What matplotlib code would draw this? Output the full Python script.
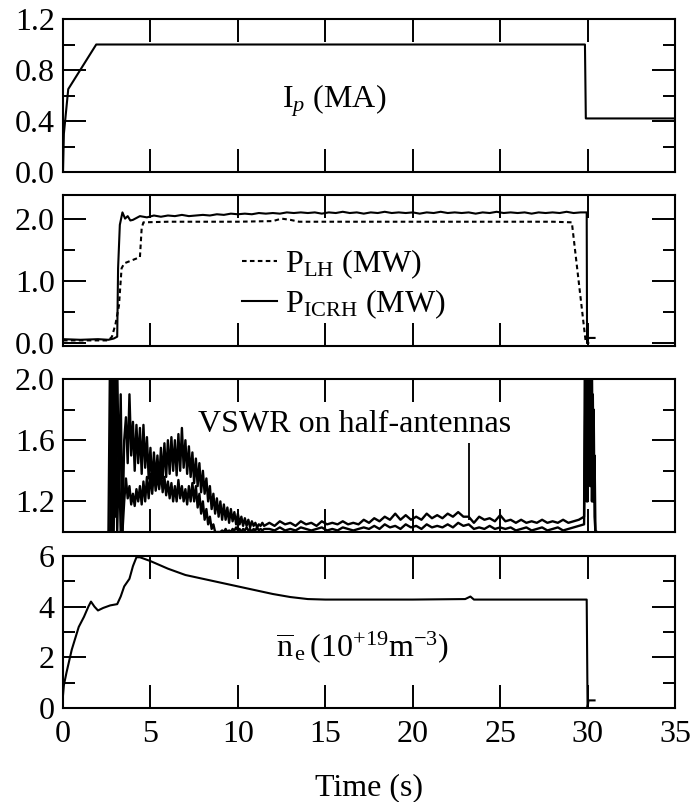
import numpy as np
import matplotlib
matplotlib.use("Agg")
import matplotlib.pyplot as plt
from matplotlib.ticker import FixedLocator
from matplotlib.lines import Line2D

plt.rcParams['font.family'] = ['Liberation Serif', 'DejaVu Serif']
plt.rcParams['mathtext.fontset'] = 'custom'
plt.rcParams['mathtext.rm'] = 'Liberation Serif'
plt.rcParams['mathtext.it'] = 'Liberation Serif:italic'
plt.rcParams['mathtext.bf'] = 'Liberation Serif:bold'

FS = 23

# ---------------- plasma current ----------------
t_ip = [0.0, 0.05, 0.3, 1.9, 29.85, 29.9, 35.0]
ip = [0.0, 0.3, 0.65, 1.0, 1.0, 0.42, 0.42]

# ---------------- heating powers ----------------
t_icrh_rise = [0.0, 1.0, 2.0, 2.6, 2.9, 3.1, 3.15, 3.25, 3.4, 3.55, 3.7, 3.85]
icrh_rise = [0.06, 0.05, 0.06, 0.05, 0.07, 0.1, 1.2, 1.9, 2.1, 2.0, 2.04, 1.97]
t_icrh_flat = np.arange(4.0, 29.7, 0.4)
icrh_flat = [1.98, 2.04, 2.02, 2.05, 2.03, 2.05, 2.04, 2.06, 2.04, 2.05,
             2.06, 2.05, 2.07, 2.06, 2.08, 2.07, 2.08, 2.07, 2.09, 2.08,
             2.09, 2.08, 2.10, 2.09, 2.10, 2.09, 2.10, 2.08, 2.10, 2.09,
             2.11, 2.09, 2.10, 2.08, 2.10, 2.09, 2.11, 2.09, 2.10, 2.09,
             2.10, 2.08, 2.10, 2.09, 2.11, 2.09, 2.10, 2.09, 2.10, 2.08,
             2.10, 2.09, 2.11, 2.09, 2.10, 2.09, 2.10, 2.08, 2.10, 2.09,
             2.10, 2.09, 2.11, 2.09, 2.10]
t_icrh_end = [29.95, 29.97, 30.05, 30.4]
icrh_end = [2.1, 0.0, 0.08, 0.08]

t_lh = [0.0, 2.6, 2.8, 3.0, 3.2, 3.35, 3.5, 4.4, 4.5, 4.6, 6.0, 8.0, 10.0,
        12.0, 12.5, 13.0, 13.5, 15.0, 20.0, 25.0, 28.0, 29.1, 29.9, 30.1]
p_lh = [0.04, 0.04, 0.1, 0.3, 0.6, 1.2, 1.28, 1.38, 1.85, 1.94, 1.95, 1.95,
        1.95, 1.96, 2.0, 1.98, 1.95, 1.95, 1.95, 1.95, 1.95, 1.94, 0.0, 0.0]

# ---------------- VSWR on the two half-antennas ----------------
t_v1 = np.arange(2.6, 11.55, 0.1)
vswr_a1 = [1.0, 2.3, 1.0, 2.2, 1.1, 2.1, 1.3, 1.9, 1.0, 1.6,
           1.75, 1.45, 1.9, 1.5, 1.72, 1.4, 1.7, 1.45, 1.68, 1.38,
           1.7, 1.42, 1.62, 1.35, 1.55, 1.3, 1.52, 1.33, 1.5, 1.32,
           1.55, 1.35, 1.58, 1.36, 1.6, 1.38, 1.62, 1.4, 1.6, 1.37,
           1.64, 1.4, 1.68, 1.42, 1.6, 1.38, 1.56, 1.36, 1.52, 1.32,
           1.48, 1.3, 1.45, 1.26, 1.4, 1.25, 1.35, 1.2, 1.3, 1.15,
           1.25, 1.12, 1.22, 1.1, 1.2, 1.08, 1.18, 1.08, 1.16, 1.06,
           1.15, 1.07, 1.13, 1.05, 1.12, 1.05, 1.1, 1.04, 1.09, 1.04,
           1.08, 1.03, 1.07, 1.04, 1.06, 1.03, 1.05, 1.04, 1.06, 1.04]
vswr_b1 = [1.0, 1.0, 2.2, 1.0, 2.1, 1.0, 1.5, 1.0, 1.0, 1.2,
           1.35, 1.22, 1.3, 1.18, 1.25, 1.17, 1.28, 1.2, 1.3, 1.18,
           1.33, 1.2, 1.36, 1.22, 1.38, 1.25, 1.4, 1.27, 1.38, 1.28,
           1.4, 1.26, 1.36, 1.24, 1.33, 1.22, 1.32, 1.2, 1.3, 1.2,
           1.34, 1.22, 1.3, 1.2, 1.28, 1.18, 1.3, 1.2, 1.32, 1.2,
           1.3, 1.16, 1.25, 1.12, 1.2, 1.08, 1.15, 1.05, 1.1, 1.02,
           1.05, 1.0, 1.0, 1.0, 1.0, 1.01, 1.0, 1.02, 1.0, 1.01,
           1.0, 1.02, 1.01, 1.03, 1.01, 1.02, 1.0, 1.02, 1.01, 1.03,
           1.01, 1.02, 1.0, 1.02, 1.01, 1.03, 1.01, 1.02, 1.01, 1.02]

t_v2 = np.arange(11.8, 29.55, 0.3)
vswr_a2 = [1.06, 1.04, 1.07, 1.05, 1.06, 1.04, 1.07, 1.05, 1.06, 1.04,
           1.07, 1.05, 1.06, 1.05, 1.07, 1.05, 1.06, 1.05, 1.08, 1.06,
           1.09, 1.07, 1.10, 1.08, 1.12, 1.08, 1.11, 1.08, 1.10, 1.08,
           1.12, 1.09, 1.11, 1.09, 1.12, 1.10, 1.13, 1.10, 1.10, 1.06,
           1.10, 1.08, 1.09, 1.07, 1.11, 1.07, 1.08, 1.06, 1.08, 1.06,
           1.07, 1.06, 1.08, 1.06, 1.07, 1.06, 1.08, 1.06, 1.07, 1.08]
vswr_b2 = [1.02, 1.01, 1.03, 1.01, 1.02, 1.01, 1.03, 1.02, 1.01, 1.02,
           1.03, 1.01, 1.02, 1.01, 1.03, 1.02, 1.01, 1.02, 1.03, 1.02,
           1.04, 1.02, 1.05, 1.03, 1.04, 1.02, 1.05, 1.03, 1.04, 1.02,
           1.05, 1.03, 1.04, 1.03, 1.05, 1.03, 1.06, 1.04, 1.05, 1.02,
           1.03, 1.02, 1.04, 1.02, 1.03, 1.02, 1.03, 1.01, 1.02, 1.03,
           1.01, 1.02, 1.03, 1.01, 1.02, 1.03, 1.01, 1.02, 1.03, 1.04]

# isolated arc spike on one half-antenna
t_spike = 23.2
vswr_spike = 1.58

t_v3 = np.arange(29.8, 30.52, 0.05)
vswr_a3 = [1.1, 2.3, 1.3, 2.2, 1.2, 2.3, 1.4, 2.2, 1.3, 2.1, 1.2, 1.8, 1.1, 1.0, 1.0]
vswr_b3 = [1.05, 1.6, 2.2, 1.2, 2.3, 1.4, 2.1, 1.3, 2.2, 1.2, 1.9, 1.3, 1.5, 1.0, 1.0]

# ---------------- line-averaged density ----------------
t_ne = [0.0, 0.05, 0.2, 0.5, 0.9, 1.2, 1.45, 1.6, 1.8, 2.0, 2.3, 2.7, 3.1,
        3.3, 3.5, 3.8, 4.0, 4.2, 4.4, 5.0, 6.0, 7.0, 8.0, 9.0, 10.0, 11.0,
        12.0, 13.0, 14.0, 15.0, 17.0, 20.0, 23.0, 23.3, 23.5, 26.0, 29.95,
        30.0, 30.05, 30.4]
ne = [0.5, 0.9, 1.4, 2.3, 3.2, 3.6, 4.0, 4.2, 4.0, 3.85, 3.95, 4.05, 4.1,
      4.4, 4.8, 5.1, 5.6, 5.95, 5.95, 5.8, 5.5, 5.25, 5.1, 4.95, 4.8, 4.65,
      4.5, 4.38, 4.3, 4.28, 4.28, 4.28, 4.3, 4.4, 4.28, 4.28, 4.28,
      0.0, 0.3, 0.3]

x_ticks = [0, 5, 10, 15, 20, 25, 30, 35]

W, H = 694, 802
fig = plt.figure(figsize=(W / 100, H / 100), dpi=100)

def frac(top, bottom):
    return [63 / W, 1 - bottom / H, 612 / W, (bottom - top) / H]

ax1 = fig.add_axes(frac(19, 172))
ax2 = fig.add_axes(frac(195, 346))
ax3 = fig.add_axes(frac(379, 532))
ax4 = fig.add_axes(frac(556, 708))

lw = 1.5
ax1.plot(t_ip, ip, color='black', lw=lw)

ax2.plot(t_lh, p_lh, color='black', lw=lw, ls=(0, (2.2, 1.6)))
t_icrh = np.concatenate([t_icrh_rise, t_icrh_flat, t_icrh_end])
p_icrh = np.concatenate([icrh_rise, icrh_flat, icrh_end])
ax2.plot(t_icrh, p_icrh, color='black', lw=lw)

t_v = np.concatenate([t_v1, t_v2, t_v3])
va = np.concatenate([vswr_a1, vswr_a2, vswr_a3])
vb = np.concatenate([vswr_b1, vswr_b2, vswr_b3])
ax3.plot(t_v, va, color='black', lw=1.7)
ax3.plot(t_v, vb, color='black', lw=1.7)
ax3.vlines(t_spike, 1.08, vswr_spike, color='black', lw=1.3)

ax4.plot(t_ne, ne, color='black', lw=lw)

ylims = [(0, 1.2), (-0.05, 2.38), (1.0, 2.0), (0, 6)]
majors = [[0.0, 0.4, 0.8, 1.2], [0.0, 1.0, 2.0], [1.2, 1.6, 2.0], [0, 2, 4, 6]]
minors = [[0.2, 0.6, 1.0], [0.5, 1.5], [1.4, 1.8], [1, 3, 5]]
ylabels = [['0.0', '0.4', '0.8', '1.2'], ['0.0', '1.0', '2.0'],
           ['1.2', '1.6', '2.0'], ['0', '2', '4', '6']]

for ax, yl, mj, mn, lab in zip([ax1, ax2, ax3, ax4], ylims, majors, minors, ylabels):
    ax.set_xlim(0, 35)
    ax.set_ylim(*yl)
    ax.xaxis.set_major_locator(FixedLocator(x_ticks))
    ax.yaxis.set_major_locator(FixedLocator(mj))
    ax.yaxis.set_minor_locator(FixedLocator(mn))
    ax.set_yticklabels(lab)
    ax.tick_params(which='both', direction='in', top=True, right=True,
                   width=1.4, labelsize=FS, color='black')
    ax.tick_params(which='major', length=16.5, pad=6)
    ax.tick_params(which='minor', length=8.5)
    for s in ax.spines.values():
        s.set_linewidth(1.5)
    if ax is not ax4:
        ax.tick_params(axis='x', labelbottom=False)

ax4.set_xticklabels([str(v) for v in x_ticks])
ax4.tick_params(axis='x', pad=9)
ax4.set_xlabel('Time (s)', fontsize=FS, labelpad=17)

ax1.text(12.5, 0.56, r'I$_{\it p}$ (MA)', fontsize=FS, va='center', ha='left')

handles = [Line2D([], [], color='black', lw=lw, ls=(0, (2.2, 1.6))),
           Line2D([], [], color='black', lw=lw)]
ax2.legend(handles, [r'P$_{\rm LH}$ (MW)', r'P$_{\rm ICRH}$ (MW)'],
           loc='upper left', bbox_to_anchor=(0.292, 0.65), frameon=False,
           fontsize=FS, handlelength=1.1, handletextpad=0.25,
           labelspacing=0.2, borderpad=0, borderaxespad=0)

ax3.text(7.7, 1.70, 'VSWR on half-antennas', fontsize=FS, va='center', ha='left')

ax4.text(12.2, 2.4, r'$\overline{\rm n}_{\,\rm e}\,(10^{+19}{\rm m}^{-3})$',
         fontsize=FS, va='center', ha='left')

fig.savefig('out.png', dpi=100)
